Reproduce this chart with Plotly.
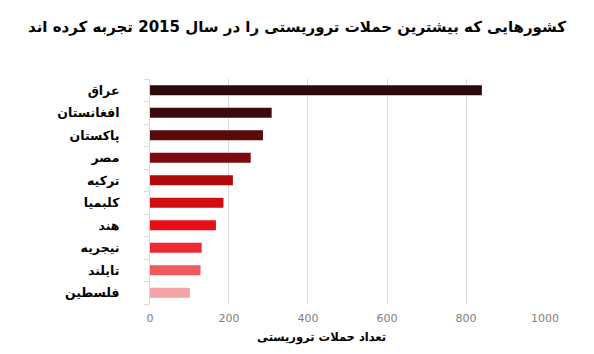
import plotly.graph_objects as go

countries = ["عراق", "افغانستان", "پاکستان", "مصر", "ترکیه", "کلبمیا", "هند", "نیجریه", "تایلند", "فلسطین"]
attacks = [840, 308, 286, 255, 210, 186, 167, 131, 128, 101]
colors = ["#2b0a0c", "#3c0a0d", "#5a0a0c", "#7a0a0c", "#b00c10", "#d00d12", "#e80e14", "#ee2a30", "#ef5a5e", "#f4a4a6"]
x_ticks = [0, 200, 400, 600, 800, 1000]
title_text = "کشورهایی که بیشترین حملات تروریستی را در سال 2015 تجربه کرده اند"
x_title = "تعداد حملات تروریستی"

fig = go.Figure(go.Bar(
    y=countries, x=attacks, orientation="h",
    marker=dict(color=colors, line=dict(width=0)),
    width=0.45,
))

fig.update_layout(
    width=594, height=354,
    margin=dict(l=0, r=0, t=0, b=0),
    paper_bgcolor="white", plot_bgcolor="white",
    showlegend=False,
    font=dict(family="DejaVu Sans", color="black"),
    title=dict(text="<b>" + title_text + "</b>", x=0.5, xanchor="center", y=1 - 27 / 354, yanchor="middle",
               font=dict(size=15, family="DejaVu Sans", color="black")),
    xaxis=dict(
        domain=[150.5 / 594, 558 / 594],
        range=[0, 1000], tickvals=x_ticks,
        showgrid=True, gridcolor="#d9d9d9", gridwidth=1,
        zeroline=False, showline=False,
        tickfont=dict(size=11, color="#7f7f7f", family="DejaVu Sans"),
        ticks="", ticklabelstandoff=6,
    ),
    yaxis=dict(
        domain=[1 - 304 / 354, 1 - 79 / 354],
        autorange="reversed",
        tickmode="array", tickvals=countries,
        ticktext=["<b>" + c + "</b>" for c in countries],
        showline=True, linecolor="#d9d9d9", linewidth=1,
        ticks="outside", ticklen=5, tickcolor="#d9d9d9",
        tickson="boundaries",
        tickfont=dict(size=12.5, color="black", family="DejaVu Sans"),
        ticklabelstandoff=27,
    ),
    annotations=[dict(
        text="<b>" + x_title + "</b>", x=327 / 594, y=1 - 337 / 354,
        xref="paper", yref="paper", showarrow=False, yanchor="middle", xanchor="center",
        font=dict(size=11.5, color="black", family="DejaVu Sans"),
    )],
)

fig.write_html("out.html")
